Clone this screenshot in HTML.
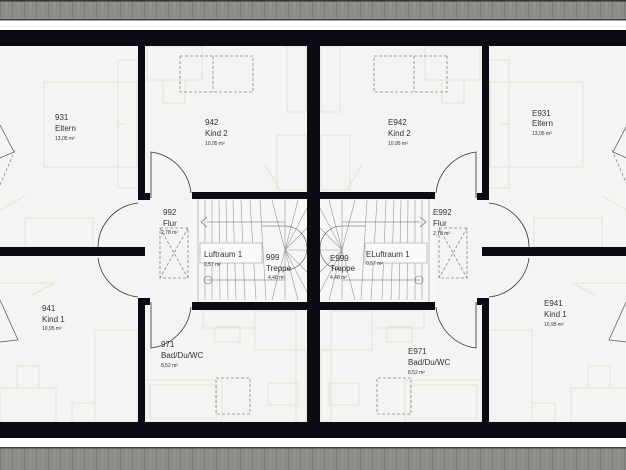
<!DOCTYPE html>
<html><head><meta charset="utf-8"><style>
html,body{margin:0;padding:0;background:#fff}
svg{display:block}
text{font-family:"Liberation Sans",sans-serif;fill:#333}
.n{font-size:8px}.s{font-size:5px}
</style></head><body>
<svg width="626" height="470" viewBox="0 0 626 470" xmlns="http://www.w3.org/2000/svg">
<defs>
<pattern id="gs" width="12" height="20" patternUnits="userSpaceOnUse">
<rect width="12" height="20" fill="#8c8c88"/><rect x="0" width="1" height="20" fill="#7a7a76"/><rect x="6" width="1" height="20" fill="#989894"/>
</pattern>
<g id="half">
<!-- furniture -->
<g fill="none" stroke="#e4e4cf" stroke-width="1">
<rect x="44" y="82" width="93" height="85"/>
<rect x="118" y="60" width="20" height="128"/>
<line x1="118" y1="124" x2="126" y2="124"/>
<rect x="25" y="218" width="68" height="29"/>
<line x1="0" y1="210" x2="25" y2="196"/>
<rect x="147" y="46" width="55" height="34"/>
<rect x="163" y="80" width="22" height="23"/>
<rect x="287" y="46" width="19" height="66"/>
<rect x="277" y="135" width="29" height="55"/>
<line x1="265" y1="165" x2="280" y2="190"/>
<rect x="95" y="330" width="43" height="92"/>
<rect x="0" y="388" width="56" height="34"/>
<rect x="17" y="366" width="22" height="22"/>
<rect x="72" y="403" width="23" height="19"/>
<line x1="0" y1="283" x2="55" y2="283"/>
<line x1="32" y1="295" x2="55" y2="283"/>
<rect x="145" y="380" width="77" height="42"/>
<rect x="150" y="385" width="67" height="33"/>
<rect x="203" y="310" width="52" height="18"/>
<rect x="215" y="327" width="25" height="15"/>
<rect x="255" y="311" width="41" height="39"/>
<rect x="296" y="350" width="10" height="72"/>
<rect x="268" y="383" width="30" height="22"/>
</g>
<g fill="none" stroke="#888" stroke-width="0.8" stroke-dasharray="3,2">
<rect x="180" y="56" width="73" height="36"/>
<line x1="213" y1="56" x2="213" y2="92"/>
<rect x="216" y="378" width="34" height="36"/>
<rect x="160" y="228" width="28" height="50"/>
<line x1="160" y1="228" x2="188" y2="278"/><line x1="188" y1="228" x2="160" y2="278"/>
<line x1="15" y1="150" x2="0" y2="185"/>
</g>
<g fill="none" stroke="#555" stroke-width="0.7">
<path d="M0 125 L14 152 L0 158"/>
<path d="M0 300 L18 340 L0 342"/>
</g>
<!-- stairs -->
<rect x="192" y="198" width="115" height="104" fill="#f7f7f7"/>
<g stroke="#999" stroke-width="0.6" fill="none">
<line x1="198" y1="198" x2="198" y2="302"/>
<line x1="205" y1="200" x2="205" y2="300"/><line x1="212" y1="200" x2="212" y2="300"/>
<line x1="219" y1="200" x2="220" y2="300"/><line x1="226" y1="200" x2="228" y2="300"/>
<line x1="233" y1="200" x2="236" y2="300"/><line x1="241" y1="200" x2="245" y2="300"/>
<line x1="250" y1="200" x2="256" y2="300"/><line x1="260" y1="200" x2="266" y2="300"/>
<line x1="285" y1="250" x2="272" y2="200"/><line x1="285" y1="250" x2="285" y2="200"/>
<line x1="285" y1="250" x2="298" y2="200"/><line x1="285" y1="250" x2="307" y2="208"/>
<line x1="285" y1="250" x2="307" y2="228"/><line x1="285" y1="250" x2="307" y2="250"/>
<line x1="285" y1="250" x2="307" y2="272"/><line x1="285" y1="250" x2="307" y2="292"/>
<line x1="285" y1="250" x2="298" y2="300"/><line x1="285" y1="250" x2="285" y2="300"/>
<line x1="285" y1="250" x2="272" y2="300"/>
<path d="M262 226 L285 226 A22 22 0 0 1 285 270" stroke="#555"/>
<line x1="207" y1="222" x2="285" y2="222" stroke="#666"/>
<path d="M207 217 L201 222 L207 227" stroke="#666"/>
<line x1="207" y1="280" x2="285" y2="280" stroke="#666"/>
<circle cx="208" cy="280" r="4" stroke="#666"/>
</g>
<rect x="200" y="243" width="62" height="20" fill="#fafafa" stroke="#aaa" stroke-width="0.7"/>
<!-- door arcs -->
<g fill="none" stroke="#333" stroke-width="0.8">
<path d="M151 198 L151 152 A46 46 0 0 1 191 193"/>
<path d="M151 302 L151 348 A46 46 0 0 0 191 307"/>
<path d="M138 203 A45 45 0 0 0 98 248"/>
<path d="M138 297 A45 45 0 0 1 98 258"/>
</g>
<!-- walls -->
<g fill="#0b0b14">
<rect x="138" y="46" width="7" height="154"/>
<rect x="138" y="298" width="7" height="124"/>
<rect x="0" y="247" width="145" height="9"/>
<rect x="145" y="193" width="5" height="7"/>
<rect x="145" y="298" width="5" height="7"/>
<rect x="192" y="192" width="115" height="7"/>
<rect x="192" y="302" width="115" height="8"/>
</g>
</g>
</defs>
<rect width="626" height="470" fill="#fff"/>
<rect x="0" y="0" width="626" height="20" fill="url(#gs)"/>
<rect x="0" y="0" width="626" height="1.5" fill="#333"/>
<rect x="0" y="19" width="626" height="1.5" fill="#444"/>
<rect x="0" y="447" width="626" height="23" fill="url(#gs)"/>
<rect x="0" y="447" width="626" height="1.5" fill="#444"/>
<rect x="0" y="46" width="626" height="376" fill="#f4f4f4"/>
<use href="#half"/>
<use href="#half" transform="translate(627,0) scale(-1,1)"/>
<rect x="0" y="30" width="626" height="16" fill="#0b0b14"/>
<rect x="0" y="422" width="626" height="16" fill="#0b0b14"/>
<rect x="307" y="46" width="13" height="376" fill="#0b0b14"/>
<g>
<text class="n" x="55" y="120">931</text><text class="n" x="55" y="131">Eltern</text><text class="s" x="55" y="140">13,05 m²</text>
<text class="n" x="205" y="125">942</text><text class="n" x="205" y="136">Kind 2</text><text class="s" x="205" y="145">10,95 m²</text>
<text class="n" x="163" y="215">992</text><text class="n" x="163" y="226">Flur</text><text class="s" x="161" y="234">2,78 m²</text>
<text class="n" x="204" y="257">Luftraum 1</text><text class="s" x="204" y="266">0,57 m²</text>
<text class="n" x="266" y="260">999</text><text class="n" x="266" y="271">Treppe</text><text class="s" x="268" y="279">4,48 m²</text>
<text class="n" x="42" y="311">941</text><text class="n" x="42" y="322">Kind 1</text><text class="s" x="42" y="330">10,95 m²</text>
<text class="n" x="161" y="347">971</text><text class="n" x="161" y="358">Bad/Du/WC</text><text class="s" x="161" y="367">8,52 m²</text>
<text class="n" x="388" y="125">E942</text><text class="n" x="388" y="136">Kind 2</text><text class="s" x="388" y="145">10,95 m²</text>
<text class="n" x="532" y="116">E931</text><text class="n" x="532" y="126">Eltern</text><text class="s" x="532" y="135">13,05 m²</text>
<text class="n" x="433" y="215">E992</text><text class="n" x="433" y="226">Flur</text><text class="s" x="433" y="235">2,78 m²</text>
<text class="n" x="366" y="257">ELuftraum 1</text><text class="s" x="366" y="265">0,57 m²</text>
<text class="n" x="330" y="261">E999</text><text class="n" x="330" y="271">Treppe</text><text class="s" x="330" y="279">4,48 m²</text>
<text class="n" x="544" y="306">E941</text><text class="n" x="544" y="317">Kind 1</text><text class="s" x="544" y="326">10,95 m²</text>
<text class="n" x="408" y="354">E971</text><text class="n" x="408" y="365">Bad/Du/WC</text><text class="s" x="408" y="374">8,52 m²</text>
</g>
</svg>
</body></html>
